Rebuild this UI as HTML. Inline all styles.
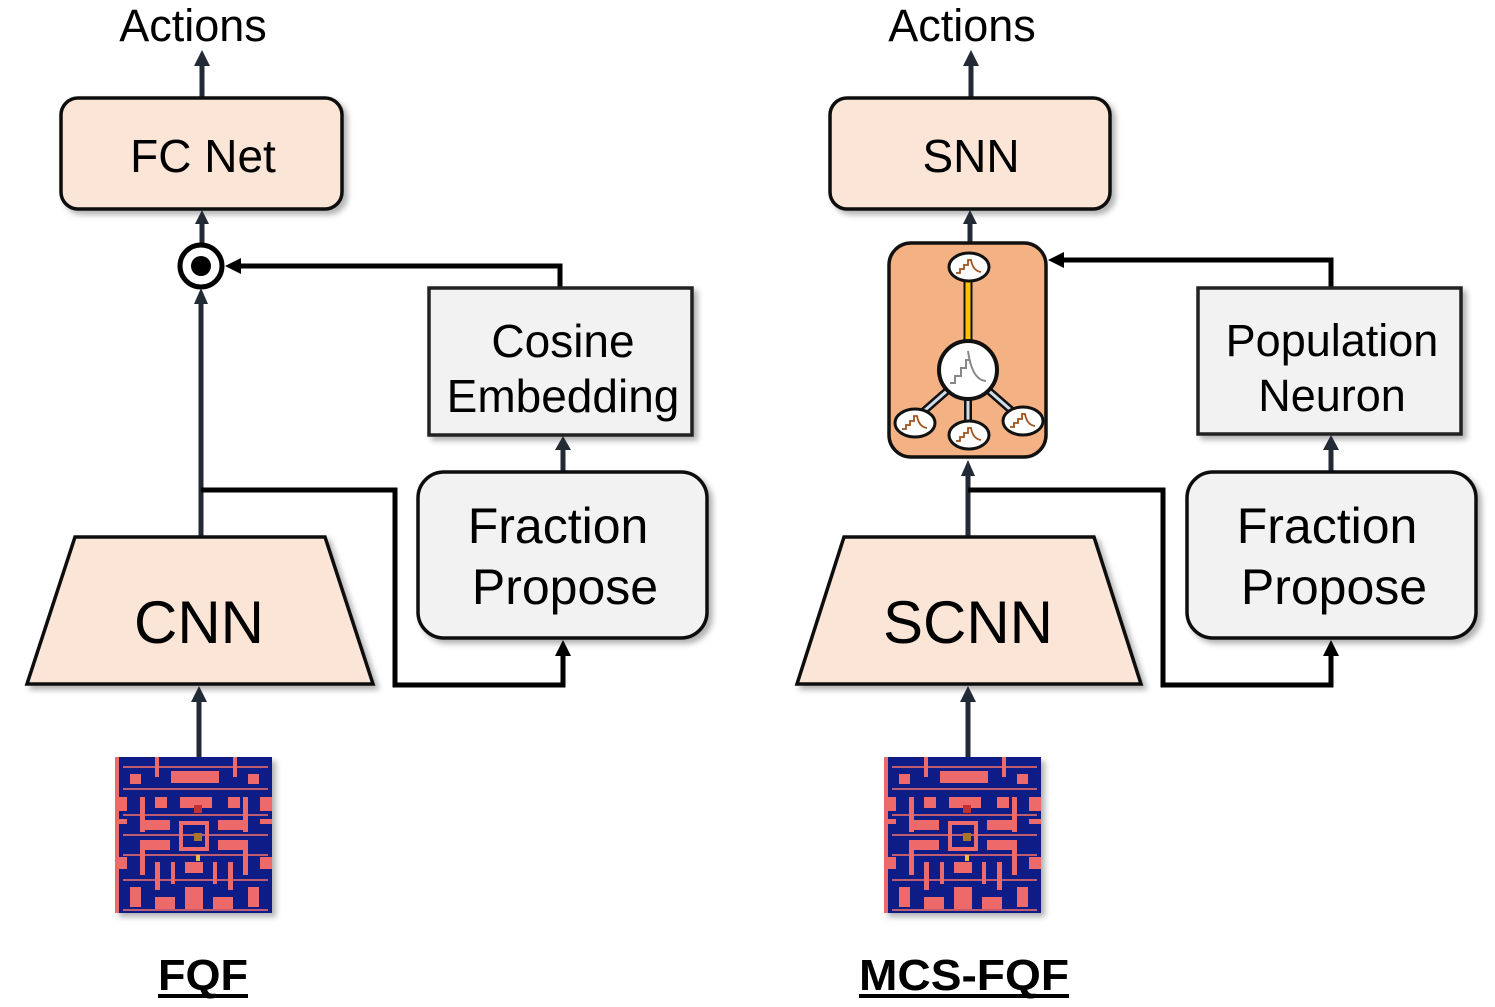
<!DOCTYPE html>
<html><head><meta charset="utf-8"><style>
html,body{margin:0;padding:0;background:#fff;}
svg{display:block;}
text{font-family:"Liberation Sans",sans-serif;fill:#000;}
</style></head><body>
<svg width="1495" height="1007" viewBox="0 0 1495 1007" xmlns="http://www.w3.org/2000/svg">
<defs>
<filter id="sh" x="-10%" y="-10%" width="130%" height="130%">
<feDropShadow dx="4" dy="4" stdDeviation="3" flood-color="#000" flood-opacity="0.3"/>
</filter>
<g id="pac">
<rect x="0" y="0" width="157" height="156" fill="#0c1b86"/>
<g fill="#ee6b6b">
<rect x="0" y="0" width="4" height="156"/>
<rect x="15" y="17" width="11" height="10"/><rect x="56" y="14" width="48" height="12"/><rect x="133" y="17" width="11" height="10"/>
<rect x="40" y="0" width="4" height="20"/><rect x="118" y="0" width="4" height="20"/>
<rect x="0" y="40" width="12" height="14"/><rect x="40" y="40" width="12" height="11"/><rect x="65" y="40" width="32" height="11"/><rect x="113" y="40" width="12" height="11"/><rect x="145" y="40" width="12" height="14"/>
<rect x="25" y="40" width="5" height="35"/><rect x="25" y="63" width="30" height="10"/>
<rect x="128" y="40" width="5" height="35"/><rect x="103" y="63" width="30" height="10"/>
<rect x="0" y="62" width="12" height="5"/><rect x="145" y="62" width="12" height="5"/>
<rect x="64" y="64" width="30" height="4"/><rect x="64" y="64" width="4" height="30"/><rect x="90" y="64" width="4" height="30"/><rect x="64" y="90" width="30" height="4"/>
<rect x="25" y="83" width="30" height="10"/><rect x="25" y="83" width="5" height="35"/>
<rect x="103" y="83" width="30" height="10"/><rect x="128" y="83" width="5" height="35"/>
<rect x="0" y="100" width="12" height="12"/><rect x="145" y="100" width="12" height="12"/>
<rect x="40" y="105" width="5" height="28"/><rect x="113" y="105" width="5" height="28"/>
<rect x="56" y="105" width="4" height="22"/><rect x="98" y="105" width="4" height="22"/>
<rect x="70" y="105" width="18" height="11"/>
<rect x="15" y="130" width="11" height="20"/><rect x="133" y="130" width="11" height="20"/>
<rect x="40" y="140" width="20" height="12"/><rect x="98" y="140" width="20" height="12"/>
<rect x="70" y="130" width="18" height="22"/>
</g>
<g fill="#ee6b6b" opacity="0.8">
<rect x="8" y="9" width="145" height="2"/><rect x="8" y="31" width="145" height="2"/><rect x="8" y="57" width="145" height="2"/><rect x="8" y="77" width="145" height="2"/><rect x="8" y="97" width="145" height="2"/><rect x="8" y="122" width="145" height="2"/><rect x="8" y="152" width="145" height="2"/>
</g>
<rect x="79" y="48" width="8" height="8" fill="#c03030"/>
<rect x="79" y="76" width="8" height="8" fill="#a8742a"/>
<rect x="81" y="98" width="4" height="6" fill="#e8c040"/>
</g>
<g id="mini">
<ellipse cx="0" cy="0" rx="20" ry="14" fill="#fff" stroke="#111" stroke-width="3"/>
<path d="M-13,6 L-9,6 L-9,2 L-5,2 L-5,-2 L-1,-2 L-1,-7 L2,-7 Q4,4 12,5" fill="none" stroke="#a0521c" stroke-width="1.8"/>
</g>
</defs>

<!-- ============ LEFT ============ -->
<text x="193" y="41" font-size="45" text-anchor="middle">Actions</text>
<line x1="202" y1="98" x2="202" y2="62" stroke="#222a36" stroke-width="5"/>
<polygon points="202,50 194,66 210,66" fill="#222a36"/>
<rect x="61" y="98" width="281" height="111" rx="17" fill="#fbe5d7" stroke="#111" stroke-width="3.5" filter="url(#sh)"/>
<text x="203" y="172" font-size="46" text-anchor="middle">FC Net</text>

<line x1="202" y1="243" x2="202" y2="222" stroke="#222a36" stroke-width="5"/>
<polygon points="202,210 195,224 209,224" fill="#222a36"/>
<circle cx="201" cy="266" r="21" fill="#fff" stroke="#000" stroke-width="5"/>
<circle cx="201" cy="266" r="10" fill="#000"/>
<line x1="201" y1="536" x2="201" y2="303" stroke="#222a36" stroke-width="5"/>
<polygon points="201,288 194,304 208,304" fill="#222a36"/>
<polyline points="560,288 560,266 240,266" fill="none" stroke="#000" stroke-width="5"/>
<polygon points="225,266 241,258 241,274" fill="#000"/>

<rect x="429" y="288" width="263" height="147" fill="#f2f2f2" stroke="#222" stroke-width="3.5" filter="url(#sh)"/>
<text x="563" y="357" font-size="46" text-anchor="middle">Cosine</text>
<text x="563" y="412" font-size="46" text-anchor="middle">Embedding</text>
<line x1="563" y1="472" x2="563" y2="448" stroke="#222a36" stroke-width="5"/>
<polygon points="563,436 555,450 571,450" fill="#222a36"/>
<rect x="418" y="472" width="289" height="166" rx="26" fill="#f2f2f2" stroke="#111" stroke-width="3.5" filter="url(#sh)"/>
<text x="558" y="543" font-size="50" text-anchor="middle">Fraction</text>
<text x="565" y="604" font-size="50" text-anchor="middle">Propose</text>

<polyline points="201,490 395,490 395,685 563,685 563,655" fill="none" stroke="#000" stroke-width="5"/>
<polygon points="563,640 555,656 571,656" fill="#000"/>
<polygon points="75,537 325,537 373,684 27,684" fill="#fbe5d7" stroke="#111" stroke-width="3.5" filter="url(#sh)"/>
<text x="199" y="643" font-size="60" text-anchor="middle">CNN</text>
<line x1="199" y1="757" x2="199" y2="700" stroke="#222a36" stroke-width="5"/>
<polygon points="199,686 191,702 207,702" fill="#222a36"/>
<use href="#pac" x="115" y="757" filter="url(#sh)"/>
<text x="203" y="990" font-size="44" font-weight="bold" text-anchor="middle" textLength="90" lengthAdjust="spacingAndGlyphs">FQF</text>
<rect x="158" y="994" width="90" height="4" fill="#000"/>

<!-- ============ RIGHT ============ -->
<text x="962" y="41" font-size="45" text-anchor="middle">Actions</text>
<line x1="971" y1="98" x2="971" y2="62" stroke="#222a36" stroke-width="5"/>
<polygon points="971,50 963,66 979,66" fill="#222a36"/>
<rect x="830" y="98" width="280" height="111" rx="17" fill="#fbe5d7" stroke="#111" stroke-width="3.5" filter="url(#sh)"/>
<text x="971" y="172" font-size="46" text-anchor="middle">SNN</text>
<line x1="970" y1="243" x2="970" y2="222" stroke="#222a36" stroke-width="5"/>
<polygon points="970,210 963,224 977,224" fill="#222a36"/>

<rect x="889" y="243" width="157" height="214" rx="22" fill="#f4b183" stroke="#111" stroke-width="3.5"/>
<line x1="968" y1="280" x2="968" y2="345" stroke="#111" stroke-width="9"/>
<line x1="968" y1="280" x2="968" y2="345" stroke="#ffc000" stroke-width="5"/>
<g stroke="#111" stroke-width="8"><line x1="948" y1="390" x2="916" y2="418"/><line x1="968" y1="395" x2="968" y2="428"/><line x1="988" y1="390" x2="1020" y2="418"/></g>
<g stroke="#d0dce8" stroke-width="3"><line x1="948" y1="390" x2="916" y2="418"/><line x1="968" y1="395" x2="968" y2="428"/><line x1="988" y1="390" x2="1020" y2="418"/></g>
<use href="#mini" x="969" y="267"/>
<use href="#mini" x="915" y="423"/>
<use href="#mini" x="969" y="435"/>
<use href="#mini" x="1023" y="421"/>
<circle cx="968" cy="370" r="29" fill="#fff" stroke="#111" stroke-width="4"/>
<path d="M950,383 L955,383 L955,376 L961,376 L961,368 L966,368 L966,360 L970,360 M968,351 Q972,380 986,381" fill="none" stroke="#888" stroke-width="2"/>

<line x1="968" y1="536" x2="968" y2="474" stroke="#222a36" stroke-width="5"/>
<polygon points="968,460 961,476 975,476" fill="#222a36"/>
<polyline points="1331,288 1331,260 1064,260" fill="none" stroke="#000" stroke-width="5"/>
<polygon points="1048,260 1064,252 1064,268" fill="#000"/>

<rect x="1198" y="288" width="263" height="146" fill="#f2f2f2" stroke="#222" stroke-width="3.5" filter="url(#sh)"/>
<text x="1332" y="356" font-size="45" text-anchor="middle">Population</text>
<text x="1332" y="411" font-size="45" text-anchor="middle">Neuron</text>
<line x1="1331" y1="472" x2="1331" y2="448" stroke="#222a36" stroke-width="5"/>
<polygon points="1331,435 1323,450 1339,450" fill="#222a36"/>
<rect x="1187" y="472" width="289" height="166" rx="26" fill="#f2f2f2" stroke="#111" stroke-width="3.5" filter="url(#sh)"/>
<text x="1327" y="543" font-size="50" text-anchor="middle">Fraction</text>
<text x="1334" y="604" font-size="50" text-anchor="middle">Propose</text>

<polyline points="968,490 1163,490 1163,685 1331,685 1331,655" fill="none" stroke="#000" stroke-width="5"/>
<polygon points="1331,640 1323,656 1339,656" fill="#000"/>
<polygon points="844,537 1094,537 1141,684 797,684" fill="#fbe5d7" stroke="#111" stroke-width="3.5" filter="url(#sh)"/>
<text x="968" y="643" font-size="60" text-anchor="middle">SCNN</text>
<line x1="968" y1="757" x2="968" y2="700" stroke="#222a36" stroke-width="5"/>
<polygon points="968,686 960,702 976,702" fill="#222a36"/>
<use href="#pac" x="884" y="757" filter="url(#sh)"/>
<text x="964" y="990" font-size="44" font-weight="bold" text-anchor="middle" textLength="210" lengthAdjust="spacingAndGlyphs">MCS-FQF</text>
<rect x="859" y="994" width="210" height="4" fill="#000"/>
</svg>
</body></html>
